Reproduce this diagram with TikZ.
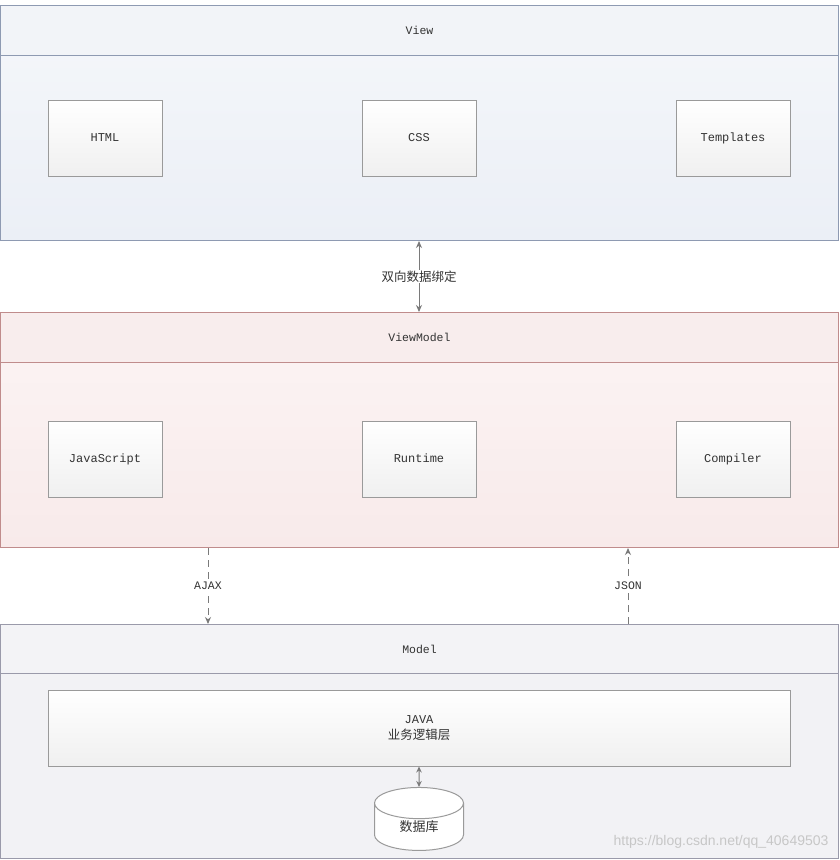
\documentclass[tikz,border=0pt]{standalone}
\usepackage{fontspec}
\setmainfont{Liberation Serif}
\newfontfamily\monof{Liberation Mono}
\newfontfamily\cjk{Noto Sans CJK SC}
\newfontfamily\wmf{Liberation Sans}
\usetikzlibrary{shapes.geometric,arrows.meta}
\definecolor{vborder}{HTML}{8E9AB2}
\definecolor{vhead}{HTML}{F2F4F8}
\definecolor{vbody}{HTML}{EBEFF6}
\definecolor{mborder}{HTML}{C08C8C}
\definecolor{mhead}{HTML}{F8EDED}
\definecolor{mbody}{HTML}{F8EAEA}
\definecolor{dborder}{HTML}{9A9AAA}
\definecolor{dhead}{HTML}{F3F3F6}
\definecolor{dbody}{HTML}{F2F2F5}
\definecolor{bxborder}{HTML}{9A9A9A}
\definecolor{txt}{HTML}{333333}
\definecolor{arrc}{HTML}{7A7A7A}
\tikzset{
  panel/.style={draw=#1, line width=1pt, minimum width=838pt, inner sep=0pt, anchor=north west},
  hdr/.style={font=\monof\fontsize{11.5}{13}\selectfont, text=txt},
  innerbox/.style={draw=bxborder, line width=1pt, top color=white, bottom color=black!6,
     minimum width=114pt, minimum height=76pt, inner sep=0pt, text height=8pt, text depth=2pt,
     font=\monof\fontsize{12}{13}\selectfont, text=txt},
  conn/.style={draw=arrc, line width=1pt},
  tip/.style={-{Stealth[length=7pt,width=6pt]}},
  lbl/.style={fill=white, inner sep=1pt, text=txt, font=\monof\fontsize{11.5}{13}\selectfont},
}
\begin{document}
\begin{tikzpicture}[x=1pt,y=-1pt]
\useasboundingbox[fill=white] (0,0) rectangle (839,860);
% ---------- View ----------
\node[panel=vborder, minimum height=185pt, top color=vbody!60!white, bottom color=vbody] (viewbody) at (0,55) {};
\node[panel=vborder, fill=vhead, minimum height=50pt] (viewhead) at (0,5) {};
\node[hdr] (viewt) at (viewhead.center) {View};
\node[innerbox] (html) at (105,138) {HTML};
\node[innerbox] (css) at (419,138) {CSS};
\node[innerbox] (tmpl) at (733,138) {Templates};
% ---------- ViewModel ----------
\node[panel=mborder, minimum height=185pt, top color=mbody!60!white, bottom color=mbody] (vmbody) at (0,362) {};
\node[panel=mborder, fill=mhead, minimum height=50pt] (vmhead) at (0,312) {};
\node[hdr] (vmt) at (vmhead.center) {ViewModel};
\node[innerbox] (js) at (105,459) {JavaScript};
\node[innerbox] (rt) at (419,459) {Runtime};
\node[innerbox] (comp) at (733,459) {Compiler};
% ---------- Model ----------
\node[panel=dborder, fill=dbody, minimum height=185pt] (mbody) at (0,673) {};
\node[panel=dborder, fill=dhead, minimum height=49pt] (mhead) at (0,624) {};
\node[hdr] (mt) at (mhead.center) {Model};
\node[draw=bxborder, line width=1pt, top color=white, bottom color=black!6,
      minimum width=742pt, minimum height=76pt, inner sep=0pt, align=center, text=txt,
      font=\monof\fontsize{12}{16}\selectfont] (java) at (419,728)
  {JAVA\\{\cjk\fontsize{12.5}{16}\selectfont 业务逻辑层}};
\node[cylinder, shape border rotate=90, draw=bxborder, line width=1pt, fill=white,
      minimum width=89pt, minimum height=63pt, aspect=0.8, inner sep=0pt,
      text=txt, font=\cjk\fontsize{13}{15}\selectfont] (db) at (419,827) {数据库};
% ---------- connectors ----------
\draw[conn, {Stealth[length=7pt,width=6pt]}-{Stealth[length=7pt,width=6pt]}]
  (viewbody.south -| css.center) -- node[lbl, font=\cjk\fontsize{12.5}{14}\selectfont] (bind) {双向数据绑定} (vmhead.north -| css.center);
\coordinate (ajaxx) at (208,0);
\coordinate (jsonx) at (628,0);
\draw[conn, dash pattern=on 7pt off 5pt, tip]
  (vmbody.south -| ajaxx) -- node[lbl] (ajax) {AJAX} (mhead.north -| ajaxx);
\draw[conn, dash pattern=on 7pt off 5pt, tip]
  (mhead.north -| jsonx) -- node[lbl] (json) {JSON} (vmbody.south -| jsonx);
\draw[conn, {Stealth[length=6pt,width=5.5pt]}-{Stealth[length=6pt,width=5.5pt]}]
  (java.south) -- (db.north);
% watermark
\node[anchor=east, text=black!22, font=\wmf\fontsize{14}{16}\selectfont] (wm) at (832,842) {https://blog.csdn.net/qq\_40649503};
\end{tikzpicture}
\end{document}
